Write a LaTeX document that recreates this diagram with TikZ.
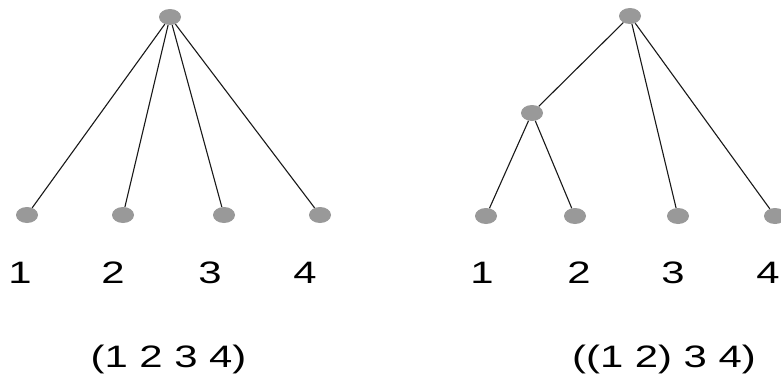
\documentclass[tikz,border=0pt]{standalone}
\usepackage{fontspec}
\usetikzlibrary{shapes.geometric}
\setmainfont{Liberation Sans}
\newfontfamily\labfont[FakeStretch=1.35]{Liberation Sans}
\begin{document}
\begin{tikzpicture}[x=1pt,y=-1pt,
  dot/.style={ellipse,fill=black!40,minimum width=22pt,minimum height=16pt,inner sep=0pt},
  lab/.style={anchor=base,inner sep=0pt,font=\labfont\fontsize{31}{36}\selectfont,text=black},
  edge/.style={draw=black!90,line width=1.1pt}]
\useasboundingbox[fill=white] (0,0) rectangle (781,378);
% left tree
\node[dot] (r) at (170,17) {};
\node[dot] (a1) at (27,215) {};
\node[dot] (a2) at (123,215) {};
\node[dot] (a3) at (224,215) {};
\node[dot] (a4) at (320,215) {};
\draw[edge] (r) -- (a1);
\draw[edge] (r) -- (a2);
\draw[edge] (r) -- (a3);
\draw[edge] (r) -- (a4);
\node[lab] (l1) at (20,283) {1};
\node[lab] (l2) at (113,283) {2};
\node[lab] (l3) at (210,283) {3};
\node[lab] (l4) at (305,283) {4};
\node[lab] (c1) at (168.5,367) {(1 2 3 4)};
% right tree
\node[dot] (R) at (630,16) {};
\node[dot] (m) at (532,113) {};
\node[dot] (b1) at (486,216) {};
\node[dot] (b2) at (575,216) {};
\node[dot] (b3) at (678,216) {};
\node[dot] (b4) at (775,216) {};
\draw[edge] (R) -- (m);
\draw[edge] (m) -- (b1);
\draw[edge] (m) -- (b2);
\draw[edge] (R) -- (b3);
\draw[edge] (R) -- (b4);
\node[lab] (k1) at (482,283) {1};
\node[lab] (k2) at (579,283) {2};
\node[lab] (k3) at (673,283) {3};
\node[lab] (k4) at (768,283) {4};
\node[lab] (c2) at (664,367) {((1 2) 3 4)};
\end{tikzpicture}
\end{document}
